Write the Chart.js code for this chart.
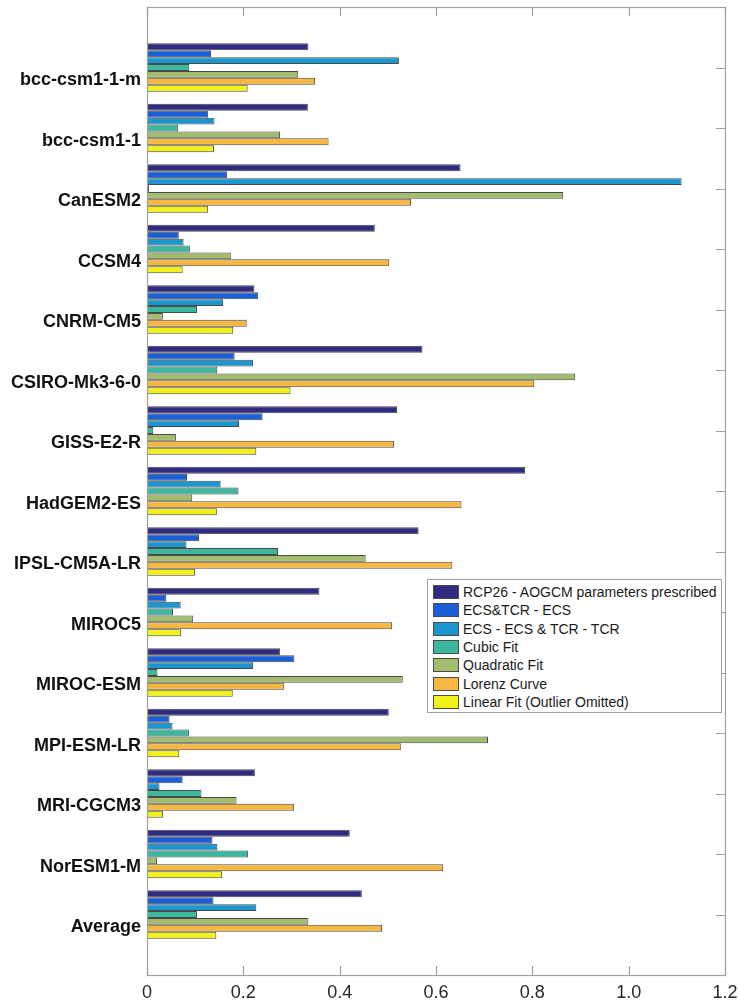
<!DOCTYPE html>
<html>
<head>
<meta charset="utf-8">
<script src="https://cdn.jsdelivr.net/npm/chart.js@4/dist/chart.umd.min.js"></script>
<style>
  html, body { margin: 0; padding: 0; background: #ffffff; }
  #wrap { position: relative; width: 739px; height: 1003px; }
  #legend {
    position: absolute; left: 427px; top: 579px; width: 295px; height: 134px;
    border: 1px solid #a0a0a0; background: #ffffff; box-sizing: border-box;
    padding-top: 3px;
    font-family: "Liberation Sans", Arial, sans-serif; font-size: 14px; color: #1a1a1a;
  }
  .row { height: 18.3px; display: flex; align-items: center; }
  .sw { width: 24px; height: 12px; margin-left: 5px; margin-right: 4px; border: 1px solid #4a4a4a; }
</style>
</head>
<body>
<div id="wrap">
  <canvas id="c" width="739" height="1003"></canvas>
  <div id="legend"></div>
</div>
<script>
const categories = ['bcc-csm1-1-m','bcc-csm1-1','CanESM2','CCSM4','CNRM-CM5','CSIRO-Mk3-6-0','GISS-E2-R','HadGEM2-ES','IPSL-CM5A-LR','MIROC5','MIROC-ESM','MPI-ESM-LR','MRI-CGCM3','NorESM1-M','Average'];
const seriesNames = ['RCP26 - AOGCM parameters prescribed','ECS&TCR - ECS','ECS - ECS & TCR - TCR','Cubic Fit','Quadratic Fit','Lorenz Curve','Linear Fit (Outlier Omitted)'];
const seriesColors = ['#2f2b7f','#1a5fd8','#1a97d0','#3db89f','#a2bd6e','#f7b842','#f2f21a'];
const rcp26     = [0.335,0.334,0.651,0.473,0.223,0.572,0.519,0.785,0.564,0.358,0.276,0.502,0.224,0.421,0.446];
const ecsTcrEcs = [0.133,0.127,0.166,0.066,0.231,0.182,0.240,0.083,0.108,0.040,0.306,0.047,0.074,0.136,0.138];
const ecsEcsTcr = [0.523,0.140,1.110,0.076,0.158,0.220,0.191,0.153,0.082,0.070,0.220,0.053,0.026,0.146,0.227];
const cubicFit  = [0.088,0.065,0.004,0.089,0.104,0.146,0.013,0.190,0.272,0.054,0.022,0.087,0.113,0.210,0.104];
const quadFit   = [0.314,0.276,0.864,0.174,0.033,0.889,0.060,0.094,0.454,0.096,0.531,0.708,0.186,0.021,0.335];
const lorenz    = [0.349,0.377,0.548,0.503,0.207,0.804,0.513,0.653,0.634,0.509,0.285,0.527,0.305,0.615,0.488];
const linearFit = [0.209,0.139,0.127,0.074,0.179,0.298,0.227,0.145,0.100,0.071,0.178,0.067,0.033,0.156,0.144];
const xTicksStep = 0.2;
const xMin = 0, xMax = 1.2;

const seriesValues = [rcp26, ecsTcrEcs, ecsEcsTcr, cubicFit, quadFit, lorenz, linearFit];
const paddedLabels = [''].concat(categories, ['']);

const datasets = seriesValues.map((vals, i) => ({
  label: seriesNames[i],
  data: [null].concat(vals, [null]),
  backgroundColor: seriesColors[i],
  borderColor: '#4a4a4a',
  borderWidth: 1,
  categoryPercentage: 0.8,
  barPercentage: 1.0
}));

const boxPlugin = {
  id: 'boxPlugin',
  afterDraw(chart) {
    const ctx = chart.ctx, a = chart.chartArea;
    const xs = chart.scales.x, ys = chart.scales.y;
    ctx.save();
    ctx.strokeStyle = '#a0a0a0';
    ctx.lineWidth = 1.2;
    ctx.strokeRect(Math.round(a.left) + 0.5, Math.round(a.top) + 0.5, Math.round(a.right - a.left), Math.round(a.bottom - a.top));
    ctx.beginPath();
    xs.ticks.forEach(t => {
      const px = Math.round(xs.getPixelForValue(t.value)) + 0.5;
      ctx.moveTo(px, a.bottom); ctx.lineTo(px, a.bottom - 9);
      ctx.moveTo(px, a.top); ctx.lineTo(px, a.top + 9);
    });
    paddedLabels.forEach((lab, i) => {
      if (!lab) return;
      const py = Math.round(ys.getPixelForValue(i)) + 0.5;
      ctx.moveTo(a.right, py); ctx.lineTo(a.right - 9, py);
    });
    ctx.stroke();
    ctx.restore();
  }
};

new Chart(document.getElementById('c'), {
  type: 'bar',
  data: { labels: paddedLabels, datasets },
  options: {
    indexAxis: 'y',
    responsive: false,
    animation: false,
    layout: { padding: { top: 7, right: 14, left: 0, bottom: 0 } },
    plugins: { legend: { display: false }, tooltip: { enabled: false } },
    scales: {
      x: {
        type: 'linear', min: xMin, max: xMax,
        ticks: { stepSize: xTicksStep, padding: 7, color: '#262626', font: { family: 'Liberation Sans', size: 18 } },
        grid: { display: false, drawTicks: false },
        border: { display: false },
        afterFit(s) { s.height = 28; s.paddingLeft = 0; s.paddingRight = 0; }
      },
      y: {
        type: 'category', offset: false,
        ticks: { autoSkip: false, padding: 6, labelOffset: 13, color: '#111111', font: { family: 'Liberation Sans', size: 18, weight: 'bold' } },
        grid: { display: false, drawTicks: false },
        border: { display: false },
        afterFit(s) { s.width = 147; s.paddingTop = 0; s.paddingBottom = 0; }
      }
    }
  },
  plugins: [boxPlugin]
});

const lg = document.getElementById('legend');
seriesNames.forEach((n, i) => {
  const r = document.createElement('div'); r.className = 'row';
  const s = document.createElement('span'); s.className = 'sw'; s.style.background = seriesColors[i];
  const t = document.createElement('span'); t.textContent = n;
  r.appendChild(s); r.appendChild(t); lg.appendChild(r);
});
</script>
</body>
</html>
